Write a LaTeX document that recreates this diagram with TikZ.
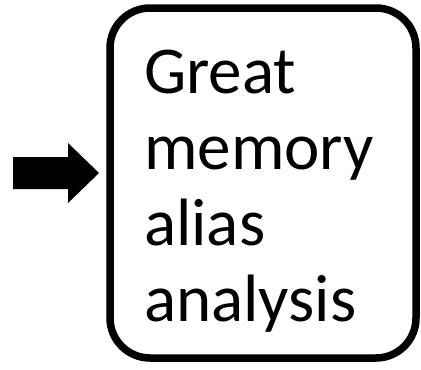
\documentclass[tikz,border=0pt]{standalone}
\usepackage{fontspec}
\setmainfont{Carlito}
\usetikzlibrary{positioning}
\tikzset{
  stagebox/.style={draw=black, line width=7.5pt, rounded corners=40pt, fill=white},
  stagetext/.style={font=\fontsize{67}{76}\selectfont, align=left, inner sep=0pt, anchor=north west}
}
\begin{document}
\begin{tikzpicture}[x=1pt,y=-1pt]
\useasboundingbox (0,0) rectangle (421,370);
% the box and its label
\draw[stagebox] (110,8) rectangle (416,358);
\node[stagetext] (label) at (144,50) {Great\\memory\\alias\\analysis};
% block arrow pointing into the box
\coordinate (tip) at (99,173);
\fill[black] (13,157) -- (68,157) -- (68,143) -- (tip) -- (68,203) -- (68,189) -- (13,189) -- cycle;
\end{tikzpicture}
\end{document}
